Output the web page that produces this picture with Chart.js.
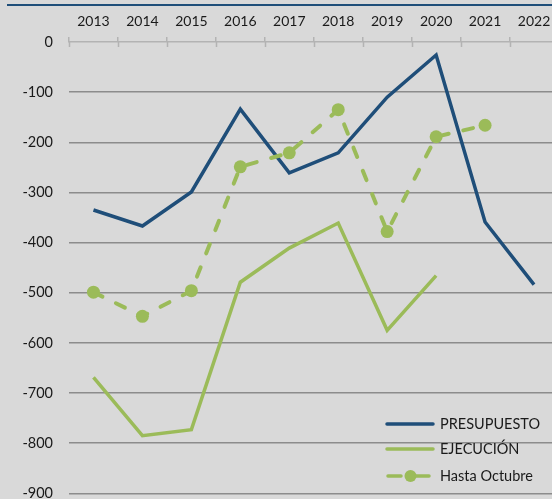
<!DOCTYPE html>
<html>
<head>
<meta charset="utf-8">
<script src="https://cdn.jsdelivr.net/npm/chart.js@4.4.1/dist/chart.umd.min.js"></script>
<style>
  html, body { margin: 0; padding: 0; background: #d9d9d9; overflow: hidden; }
  #wrap { position: relative; width: 552px; height: 499px; overflow: hidden; background: #d9d9d9; }
  #topline { position: absolute; left: 7px; top: 4px; width: 560px; height: 2px; background: #1f4e79; }
  canvas { position: absolute; left: 0; top: 0; }
  .lg { position: absolute; left: 384px; height: 20px; font-family: Lato, sans-serif; font-size: 14.5px; color: #1a1a1a; line-height: 20px; white-space: nowrap; }
  .lg svg { position: absolute; left: 0; top: 0; }
  .lg span { position: absolute; left: 56px; top: 0; }
</style>
</head>
<body>
<div id="wrap">
  <canvas id="c" width="565" height="518"></canvas>
  <div id="topline"></div>
  <div id="legend"></div>
</div>
<script>
const years = ['2013','2014','2015','2016','2017','2018','2019','2020','2021','2022'];
const presupuesto = [-335, -367, -299, -134, -261, -221, -110, -26, -359, -484];
const ejecucion = [-669, -785, -773, -479, -411, -361, -575, -466, null, null];
const hastaOctubre = [-499, -547, -496, -249, -221, -135, -378, -189, -166, null];
const seriesNames = ['PRESUPUESTO', 'EJECUCIÓN', 'Hasta Octubre'];
const blue = '#1f4e79';
const green = '#9bbb59';

const lowerTicks = {
  id: 'lowerTicks',
  afterDraw(chart) {
    const x = chart.scales.x, ctx = chart.ctx;
    const n = years.length;
    const step = (x.right - x.left) / n;
    ctx.save();
    ctx.strokeStyle = '#b3b3b3';
    ctx.lineWidth = 1.5;
    for (let k = 0; k <= n; k++) {
      const px = Math.round(x.left + k * step) + 0.5;
      ctx.beginPath();
      ctx.moveTo(px, x.bottom);
      ctx.lineTo(px, x.bottom + 5);
      ctx.stroke();
    }
    ctx.restore();
  }
};

new Chart(document.getElementById('c'), {
  type: 'line',
  data: {
    labels: years,
    datasets: [
      { label: seriesNames[0], data: presupuesto, borderColor: blue, backgroundColor: blue, borderWidth: 3.5, pointRadius: 0, tension: 0, order: 1, borderJoinStyle: 'miter' },
      { label: seriesNames[1], data: ejecucion, borderColor: green, backgroundColor: green, borderWidth: 3.5, pointRadius: 0, tension: 0, order: 2, spanGaps: false },
      { label: seriesNames[2], data: hastaOctubre, borderColor: green, backgroundColor: green, borderWidth: 4, borderDash: [10, 15], borderCapStyle: 'round', pointRadius: 6.5, pointBorderWidth: 0, pointBackgroundColor: green, tension: 0, order: 0 }
    ]
  },
  options: {
    responsive: false,
    devicePixelRatio: 1,
    animation: false,
    layout: { padding: { left: 0, right: 0, top: 0, bottom: 7 } },
    plugins: { legend: { display: false }, tooltip: { enabled: false } },
    scales: {
      x: {
        position: 'top',
        offset: true,
        afterFit(s) { s.height = 42; },
        grid: { drawOnChartArea: false, drawTicks: true, tickLength: 5, offset: true, color: '#b3b3b3', lineWidth: 1.5 },
        border: { display: true, color: '#b3b3b3', width: 1.5 },
        ticks: { color: '#1a1a1a', font: { family: 'Lato', size: 14 }, padding: 7, maxRotation: 0 }
      },
      y: {
        min: -900, max: 0,
        afterFit(s) { s.width = 69; },
        grid: { drawTicks: false, color: ctx => (ctx.tick && ctx.tick.value === 0) ? 'rgba(0,0,0,0)' : '#8c8c8c', lineWidth: 1.5 },
        border: { display: false },
        ticks: { stepSize: 100, color: '#1a1a1a', font: { family: 'Lato', size: 14.5 }, padding: 16 }
      }
    }
  },
  plugins: [lowerTicks]
});

// HTML legend
const legendDiv = document.getElementById('legend');
const items = [
  { name: seriesNames[0], y: 424, svg: `<line x1="3" y1="10" x2="49" y2="10" stroke="${blue}" stroke-width="3.5" stroke-linecap="round"/>` },
  { name: seriesNames[1], y: 449, svg: `<line x1="3" y1="10" x2="49" y2="10" stroke="${green}" stroke-width="3.5" stroke-linecap="round"/>` },
  { name: seriesNames[2], y: 476, svg: `<line x1="4" y1="10" x2="17" y2="10" stroke="${green}" stroke-width="3.5" stroke-linecap="round"/><circle cx="26.5" cy="10" r="6" fill="${green}"/><line x1="32" y1="10" x2="45" y2="10" stroke="${green}" stroke-width="3.5" stroke-linecap="round"/>` }
];
items.forEach(it => {
  const d = document.createElement('div');
  d.className = 'lg';
  d.style.top = (it.y - 10) + 'px';
  d.innerHTML = `<svg width="52" height="20">${it.svg}</svg><span>${it.name}</span>`;
  legendDiv.appendChild(d);
});
</script>
</body>
</html>
